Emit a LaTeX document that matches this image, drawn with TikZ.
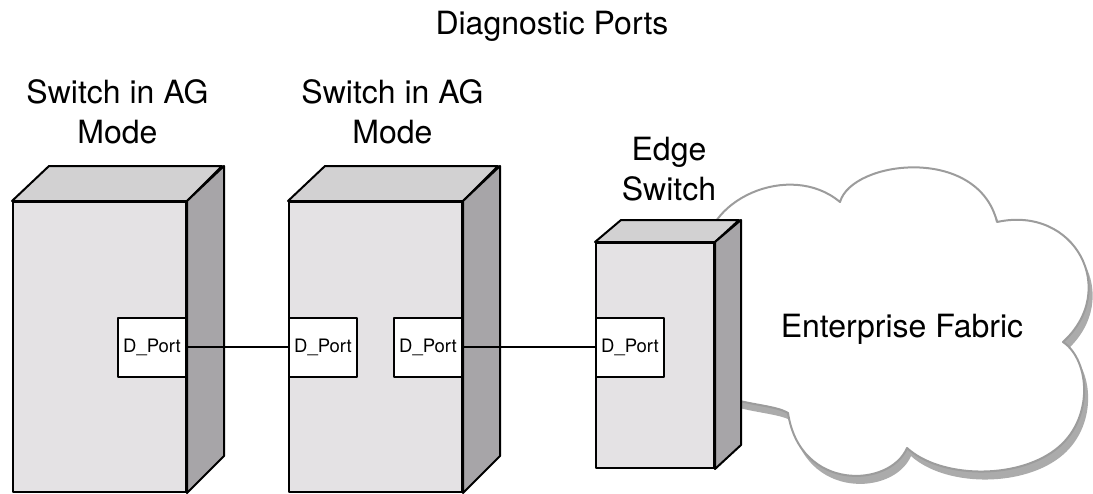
\documentclass[tikz,border=0pt]{standalone}
\usepackage{fontspec}
\setmainfont{TeX Gyre Heros}
\usetikzlibrary{positioning,calc}

\definecolor{frontgray}{HTML}{E4E2E4}
\definecolor{topgray}{HTML}{D2D1D2}
\definecolor{sidegray}{HTML}{A7A5A8}
\definecolor{cloudline}{HTML}{9C9C9C}
\definecolor{cloudshadow}{HTML}{ABABAB}

\newcommand{\cloudoutline}{(705,260) .. controls (700,200) and (790,160) .. (840,202)
  .. controls (852,160) and (978,145) .. (997,222)
  .. controls (1075,205) and (1120,290) .. (1063,342)
  .. controls (1090,360) and (1095,420) .. (1055,450)
  .. controls (1015,480) and (940,478) .. (907,448)
  .. controls (890,488) and (800,492) .. (788,413)
  .. controls (775,405) and (745,405) .. (720,395) -- cycle}

\begin{document}
\begin{tikzpicture}[x=1pt, y=-1pt, line width=2pt, line join=round,
  front/.style={rectangle, draw, fill=frontgray, inner sep=0pt},
  port/.style={rectangle, draw, fill=white, inner sep=0pt, minimum width=68pt,
    minimum height=59pt, font=\fontsize{18.5}{22}\selectfont},
  title/.style={align=center, inner sep=0pt, font=\fontsize{32}{40}\selectfont}]
\useasboundingbox (0,0) rectangle (1093,493);

% cloud
\fill[cloudshadow, shift={(4,8)}] \cloudoutline;
\draw[cloudline, fill=white] \cloudoutline;
\node[title, anchor=base] (fabric) at (902,337) {Enterprise Fabric};

% switches
\node[front, minimum width=173pt, minimum height=290pt] (sw1) at (99.5,347) {};
\draw[fill=topgray] (sw1.north west) -- ++(37,-35) -- ++(173,0) -- (sw1.north east) -- cycle;
\draw[fill=sidegray] (sw1.north east) -- ++(37,-35) -- ++(0,290) -- (sw1.south east) -- cycle;

\node[front, minimum width=173pt, minimum height=290pt] (sw2) at (375.5,347) {};
\draw[fill=topgray] (sw2.north west) -- ++(37,-35) -- ++(173,0) -- (sw2.north east) -- cycle;
\draw[fill=sidegray] (sw2.north east) -- ++(37,-35) -- ++(0,290) -- (sw2.south east) -- cycle;

\node[front, minimum width=118pt, minimum height=225pt] (edge) at (655,355.5) {};
\draw[fill=topgray] (edge.north west) -- ++(26,-22) -- ++(118,0) -- (edge.north east) -- cycle;
\draw[fill=sidegray] (edge.north east) -- ++(26,-22) -- ++(0,225) -- (edge.south east) -- cycle;

% labels
\node[title, anchor=base] (diag) at (552,34) {Diagnostic Ports};
\node[title, anchor=south] (lab1) at (117.5,145) {Switch in AG\\Mode};
\node[title, anchor=south] (lab2) at (392.5,145) {Switch in AG\\Mode};
\node[title, anchor=south] (lab3) at (669,202) {Edge\\Switch};

% ports
\node[port, anchor=east] (p1) at (sw1.east) {D\_Port};
\node[port, anchor=west] (p2) at (sw2.west) {D\_Port};
\node[port, anchor=east] (p3) at (sw2.east) {D\_Port};
\node[port, anchor=west] (p4) at ([yshift=8.5pt]edge.west) {D\_Port};

\draw (p1.east) -- (p2.west);
\draw (p3.east) -- (p4.west);
\end{tikzpicture}
\end{document}
